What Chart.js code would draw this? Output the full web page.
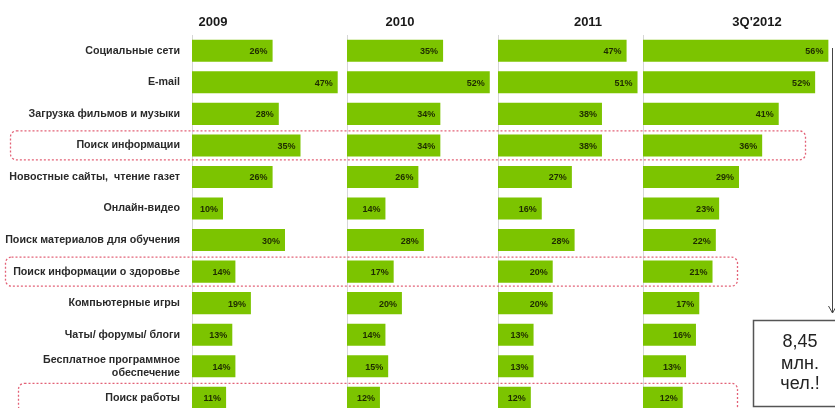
<!DOCTYPE html>
<html>
<head>
<meta charset="utf-8">
<script src="https://cdn.jsdelivr.net/npm/chart.js@4/dist/chart.umd.min.js"></script>
<style>
  html, body { margin: 0; padding: 0; background: #fff; overflow: hidden; }
  #wrap { position: relative; width: 835px; height: 424px; }
</style>
</head>
<body>
<div id="wrap"><canvas id="usageChart" width="835" height="424"></canvas></div>
<script>
//DATA
const categories = [
  "Социальные сети",
  "E-mail",
  "Загрузка фильмов и музыки",
  "Поиск информации",
  "Новостные сайты,  чтение газет",
  "Онлайн-видео",
  "Поиск материалов для обучения",
  "Поиск информации о здоровье",
  "Компьютерные игры",
  "Чаты/ форумы/ блоги",
  ["Бесплатное программное", "обеспечение"],
  "Поиск работы",
];
const periods = ["2009", "2010", "2011", "3Q'2012"];
const values2009 = [26, 47, 28, 35, 26, 10, 30, 14, 19, 13, 14, 11];
const values2010 = [35, 52, 34, 34, 26, 14, 28, 17, 20, 14, 15, 12];
const values2011 = [47, 51, 38, 38, 27, 16, 28, 20, 20, 13, 13, 12];
const values2012 = [56, 52, 41, 36, 29, 23, 22, 21, 17, 16, 13, 12];
const highlightedRows = [3, 7, 11];
const noteLines = ["8,45", "млн.", "чел.!"];

const allValues = [values2009, values2010, values2011, values2012];
const axisMax = [50, 55, 53, 58];
const axisWeight = [155, 151, 145, 192];
const FONT = "Arial, 'Liberation Sans', sans-serif";
const GREEN = "#7cc400";

//ONE X AXIS PER PERIOD, PLACED SIDE BY SIDE
const scales = {
  y: {
    type: "category",
    position: "left",
    grid: { display: false },
    border: { display: false },
    ticks: {
      color: "#2a2a2a",
      padding: 4,
      font: { family: FONT, size: 10.7, weight: "bold" },
    },
    afterFit: (scale) => {
      scale.width = 192;
    },
  },
};
const datasets = [];
for (let i = 0; i < periods.length; i++) {
  const id = "x" + i;
  scales[id] = {
    type: "linear",
    position: "bottom",
    stack: "panels",
    stackWeight: axisWeight[i],
    min: 0,
    max: axisMax[i],
    display: false,
  };
  datasets.push({
    label: periods[i],
    data: allValues[i],
    xAxisID: id,
    yAxisID: "y",
    grouped: false,
    backgroundColor: GREEN,
    borderWidth: 0,
    categoryPercentage: 1,
    barPercentage: 0.7,
  });
}

//DECORATIONS: PANEL LINES, HEADERS, HIGHLIGHT BOXES, VALUE LABELS, NOTE
const decorations = {
  id: "decorations",
  beforeDatasetsDraw(chart) {
    const ctx = chart.ctx;
    ctx.save();
    ctx.strokeStyle = "#d6d6d6";
    ctx.lineWidth = 1;
    for (let i = 0; i < periods.length; i++) {
      const x = Math.round(chart.scales["x" + i].left) + 0.5;
      ctx.beginPath();
      ctx.moveTo(x, 35);
      ctx.lineTo(x, chart.height);
      ctx.stroke();
    }
    ctx.restore();
  },
  afterDatasetsDraw(chart) {
    const ctx = chart.ctx;
    const yScale = chart.scales.y;
    ctx.save();

    //PERIOD HEADERS
    const headerX = [213, 400, 588, 757];
    ctx.fillStyle = "#1a1a1a";
    ctx.font = "bold 13px " + FONT;
    ctx.textAlign = "center";
    ctx.textBaseline = "middle";
    periods.forEach((p, i) => ctx.fillText(p, headerX[i], 22));

    //VALUE LABELS INSIDE THE BARS
    ctx.font = "bold 9px " + FONT;
    ctx.fillStyle = "#1e2b00";
    ctx.textAlign = "right";
    chart.data.datasets.forEach((ds, di) => {
      chart.getDatasetMeta(di).data.forEach((bar, j) => {
        ctx.fillText(ds.data[j] + "%", bar.x - 5, bar.y + 1);
      });
    });

    //DASHED HIGHLIGHT BOXES
    const boxX = [[10, 805], [5, 737], [18, 737]];
    ctx.strokeStyle = "rgba(222, 70, 95, 0.85)";
    ctx.lineWidth = 1.3;
    ctx.setLineDash([2, 2]);
    highlightedRows.forEach((row, k) => {
      const cy = yScale.getPixelForValue(row);
      ctx.beginPath();
      ctx.roundRect(boxX[k][0] + 0.5, cy - 14.5, boxX[k][1] - boxX[k][0], 29, 6);
      ctx.stroke();
    });
    ctx.setLineDash([]);

    //ARROW AND NOTE BOX
    ctx.strokeStyle = "#444";
    ctx.lineWidth = 1;
    ctx.beginPath();
    ctx.moveTo(832.5, 48);
    ctx.lineTo(832.5, 313);
    ctx.moveTo(828.5, 306);
    ctx.lineTo(832.5, 313);
    ctx.lineTo(836.5, 306);
    ctx.stroke();

    ctx.fillStyle = "#fff";
    ctx.fillRect(753, 320, 90, 87);
    ctx.strokeStyle = "#555";
    ctx.lineWidth = 1.5;
    ctx.strokeRect(753.5, 320.5, 90, 86);

    ctx.fillStyle = "#222";
    ctx.font = "18px " + FONT;
    ctx.textAlign = "center";
    ctx.textBaseline = "alphabetic";
    const baselines = [347, 369, 389];
    noteLines.forEach((t, i) => ctx.fillText(t, 800, baselines[i]));
    ctx.restore();
  },
};

const chart = new Chart(document.getElementById("usageChart"), {
  type: "bar",
  data: { labels: categories, datasets: datasets },
  options: {
    indexAxis: "y",
    responsive: false,
    animation: false,
    layout: { padding: { top: 35, bottom: 3, left: 0, right: 0 } },
    plugins: {
      legend: { display: false },
      tooltip: { enabled: false },
    },
    scales: scales,
  },
  plugins: [decorations],
});
</script>
</body>
</html>
